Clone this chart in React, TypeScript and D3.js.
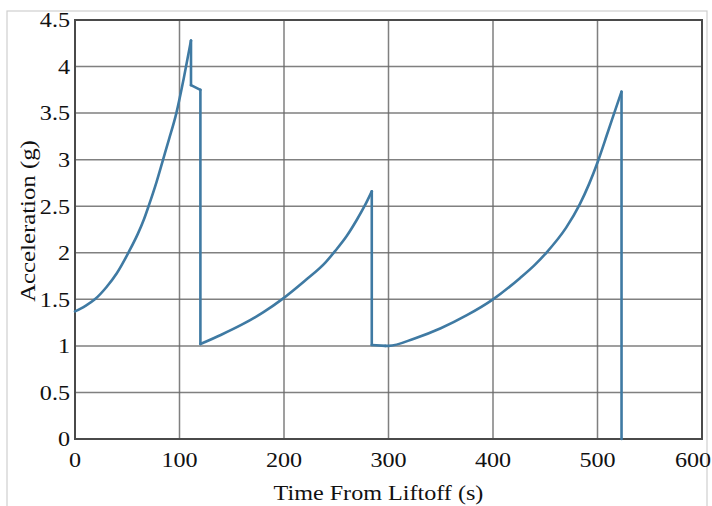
import React from "react";
import * as d3 from "d3";

// seconds after liftoff
const times = [
  0, 10, 19, 30, 40, 52, 60, 66, 71, 78, 84, 90, 97, 104, 111, 111, 120, 120,
  140, 160, 180, 198, 220, 240, 249, 260, 270, 277, 284, 284, 297, 300,
  325, 350, 375, 400, 426, 440, 451, 470, 483, 492, 500, 510, 519, 523, 523,
];
// acceleration in g
const accel = [
  1.37, 1.43, 1.5, 1.63, 1.78, 2.02, 2.2, 2.36, 2.52, 2.76, 2.99, 3.22, 3.5, 3.87, 4.28, 3.8, 3.75, 1.02,
  1.12, 1.23, 1.36, 1.5, 1.7, 1.9, 2.02, 2.18, 2.36, 2.5, 2.66, 1.01, 1.0, 1.0,
  1.08, 1.19, 1.33, 1.5, 1.73, 1.87, 2.0, 2.27, 2.52, 2.74, 2.97, 3.3, 3.6, 3.73, 0,
];

const xTicks = [0, 100, 200, 300, 400, 500, 600];
const yTicks = [0, 0.5, 1, 1.5, 2, 2.5, 3, 3.5, 4, 4.5];

const W = 712;
const H = 506;
const margin = { top: 20, right: 10, bottom: 67, left: 75 };

type Pt = [number, number];

export default function App() {
  const x = d3.scaleLinear().domain([0, 600]).range([margin.left, W - margin.right]);
  const y = d3.scaleLinear().domain([0, 4.5]).range([H - margin.bottom, margin.top]);

  const pts: Pt[] = times.map((t, i) => [t, accel[i]]);

  // smooth the burning stretches, keep the cut-offs as straight jumps
  const runs: { pts: Pt[]; smooth: boolean }[] = [];
  let cur: Pt[] = [pts[0]];
  for (let i = 1; i < pts.length; i++) {
    const up = pts[i][0] > pts[i - 1][0] && pts[i][1] >= pts[i - 1][1];
    if (up) {
      cur.push(pts[i]);
    } else {
      if (cur.length > 1) runs.push({ pts: cur, smooth: true });
      runs.push({ pts: [pts[i - 1], pts[i]], smooth: false });
      cur = [pts[i]];
    }
  }
  if (cur.length > 1) runs.push({ pts: cur, smooth: true });

  const smoothLine = d3
    .line<Pt>()
    .x((d) => x(d[0]))
    .y((d) => y(d[1]))
    .curve(d3.curveMonotoneX);
  const straight = d3
    .line<Pt>()
    .x((d) => x(d[0]))
    .y((d) => y(d[1]));

  const font = "'Liberation Serif', 'Times New Roman', serif";
  const grid = "#6a6a6a";
  const fs = 21;
  const stretch = 1.15;

  return (
    <svg width={W} height={H} style={{ position: "absolute", left: 0, top: 0, background: "#fff" }}>
      <rect x={7} y={11} width={700} height={H} fill="none" stroke="#cfcfcf" strokeWidth={1.2} />
      {xTicks.map((t) => (
        <line key={"gx" + t} x1={x(t)} x2={x(t)} y1={y(0)} y2={y(4.5)} stroke={grid} strokeWidth={1.5} opacity={0.85} />
      ))}
      {yTicks.map((v) => (
        <line key={"gy" + v} x1={x(0)} x2={x(600)} y1={y(v)} y2={y(v)} stroke={grid} strokeWidth={1.5} opacity={0.85} />
      ))}
      <rect
        x={x(0)}
        y={y(4.5)}
        width={x(600) - x(0)}
        height={y(0) - y(4.5)}
        fill="none"
        stroke="#4a4a4a"
        strokeWidth={2}
      />
      {runs.map((r, i) => (
        <path
          key={"run" + i}
          d={(r.smooth ? smoothLine(r.pts) : straight(r.pts)) || ""}
          fill="none"
          stroke="#3f7aa3"
          strokeWidth={2.6}
          strokeLinecap="round"
        />
      ))}
      {xTicks.map((t, i) => (
        <text
          key={"tx" + t}
          transform={`translate(${x(t) + (i === xTicks.length - 1 ? -9 : 0)}, ${y(0) + 28}) scale(${stretch}, 1)`}
          textAnchor="middle"
          fontFamily={font}
          fontSize={fs}
          fill="#111"
        >
          {t}
        </text>
      ))}
      {yTicks.map((v) => (
        <text
          key={"ty" + v}
          transform={`translate(${x(0) - 5}, ${y(v)}) scale(${stretch}, 1)`}
          dy="0.35em"
          textAnchor="end"
          fontFamily={font}
          fontSize={fs}
          fill="#111"
        >
          {v}
        </text>
      ))}
      <text
        transform={`translate(${(x(0) + x(600)) / 2 - 10}, ${H - 6}) scale(${stretch}, 1)`}
        textAnchor="middle"
        fontFamily={font}
        fontSize={fs}
        fill="#111"
      >
        Time From Liftoff (s)
      </text>
      <text
        transform={`translate(35, 221) rotate(-90) scale(1.18, 1)`}
        textAnchor="middle"
        fontFamily={font}
        fontSize={fs}
        fill="#111"
      >
        Acceleration (g)
      </text>
    </svg>
  );
}
